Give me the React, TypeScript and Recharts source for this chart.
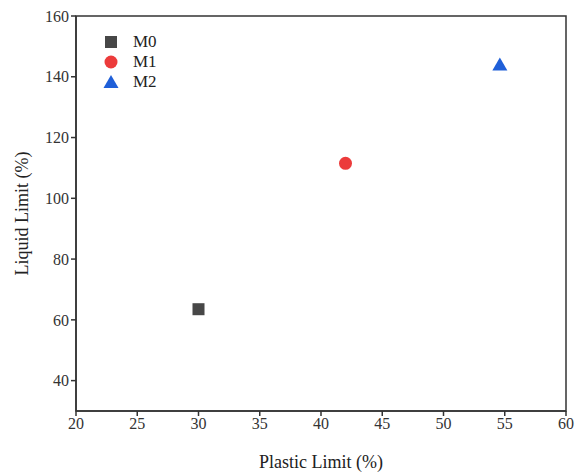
import React from "react";
import {
  ScatterChart, Scatter, XAxis, YAxis, ReferenceArea,
} from "recharts";

const series = ["M0", "M1", "M2"];
const plasticLimit = [30, 42, 54.6];
const liquidLimit = [63.5, 111.5, 144];
const colors = ["#474747", "#ec3b3b", "#1f5fd8"];
const xTicks = [20, 25, 30, 35, 40, 45, 50, 55, 60];
const yTicks = [40, 60, 80, 100, 120, 140, 160];

const FONT = "'Liberation Serif', 'Times New Roman', serif";
const AXIS = "#333";

const Marker = ({ kind, cx, cy, fill }: any) => {
  if (kind === 0) return <rect x={cx - 6} y={cy - 6} width={12} height={12} fill={fill} />;
  if (kind === 1) return <circle cx={cx} cy={cy} r={6.5} fill={fill} />;
  return <polygon points={`${cx},${cy - 7} ${cx + 7.5},${cy + 6} ${cx - 7.5},${cy + 6}`} fill={fill} />;
};

// legend drawn as an overlay so the chart keeps its full plot height
const LegendBox = () => (
  <div style={{ position: "absolute", left: 103, top: 32, fontFamily: FONT, fontSize: 17, color: "#222" }}>
    {series.map((s, i) => (
      <div key={s} style={{ display: "flex", alignItems: "center", height: 20 }}>
        <svg width={16} height={16} style={{ marginRight: 14 }}>
          <Marker kind={i} cx={8} cy={8} fill={colors[i]} />
        </svg>
        <span>{s}</span>
      </div>
    ))}
  </div>
);

export default function App() {
  const data = series.map((s, i) => [{ x: plasticLimit[i], y: liquidLimit[i] }]);
  return (
    <div style={{ position: "absolute", left: 0, top: 0, background: "#fff" }}>
      <ScatterChart width={575} height={475} margin={{ top: 16, right: 9, bottom: 0, left: 0 }}>
        <XAxis
          type="number" dataKey="x" domain={[20, 60]} ticks={xTicks} height={64}
          tickSize={5} stroke={AXIS} strokeWidth={1.5}
          tick={{ fontFamily: FONT, fontSize: 16, fill: "#333" }}
          label={{ value: "Plastic Limit (%)", position: "insideBottom", offset: 7, style: { fontFamily: FONT, fontSize: 18, fill: "#222" } }}
        />
        <YAxis
          type="number" dataKey="y" domain={[30, 160]} ticks={yTicks} width={76}
          tickSize={5} stroke={AXIS} strokeWidth={1.5}
          tick={{ fontFamily: FONT, fontSize: 16, fill: "#333" }}
          label={{ value: "Liquid Limit (%)", angle: -90, position: "insideLeft", offset: 22, style: { fontFamily: FONT, fontSize: 18, fill: "#222", textAnchor: "middle" } }}
        />
        <ReferenceArea x1={20} x2={60} y1={30} y2={160} fill="none" stroke={AXIS} strokeWidth={1.5} ifOverflow="visible" />
        {series.map((s, i) => (
          <Scatter
            key={s} name={s} data={data[i]} fill={colors[i]} isAnimationActive={false}
            shape={(p: any) => <Marker kind={i} cx={p.cx} cy={p.cy} fill={colors[i]} />}
          />
        ))}
      </ScatterChart>
      <LegendBox />
    </div>
  );
}
